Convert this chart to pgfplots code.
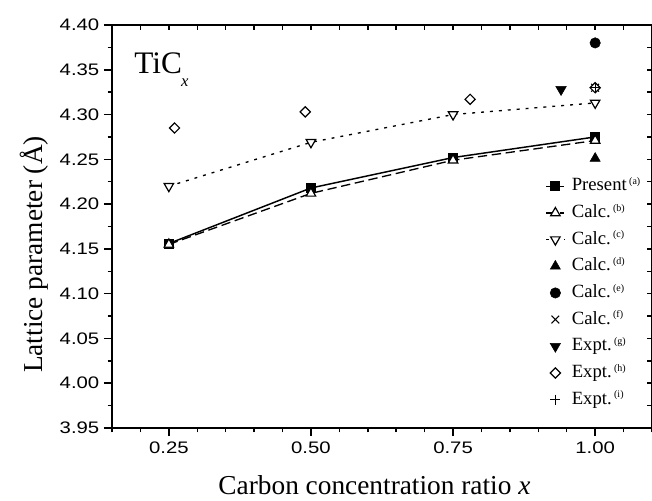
\documentclass[border=0pt]{standalone}
\usepackage{fontspec}
\setmainfont{Liberation Serif}
\newfontfamily\arial[FakeStretch=1.22]{Liberation Sans}
\usepackage{pgfplots}
\pgfplotsset{compat=1.18}
\newcommand{\lf}{\fontsize{14}{14}\selectfont}
\newcommand{\refsup}[1]{\kern1.8pt\raisebox{4.8pt}{\fontsize{7.5}{7.5}\selectfont(#1)}}
\begin{document}
\begin{tikzpicture}
\pgfplotsset{
  common/.style={
    scale only axis, width=405pt, height=302.25pt,
    xmin=0.15, xmax=1.10, ymin=3.95, ymax=4.40,
    xtick={0.25,0.5,0.75,1.0},
    minor xtick={0.15,0.2,0.3,0.35,0.4,0.45,0.55,0.6,0.65,0.7,0.8,0.85,0.9,0.95,1.05,1.1},
    ytick={3.95,4.00,4.05,4.10,4.15,4.20,4.25,4.30,4.35,4.40},
    minor ytick={3.975,4.025,4.075,4.125,4.175,4.225,4.275,4.325,4.375},
    axis line style={line width=1.1pt, black},
    tick style={line width=1.1pt, black},
  }
}
\begin{axis}[common,
  axis x line*=bottom, axis y line*=left, tick align=outside,
  major tick length=6pt, minor tick length=3.2pt,
  /pgf/number format/.cd, fixed, fixed zerofill, precision=2, assume math mode=true, /pgfplots/.cd,
  ticklabel style={font=\arial\fontsize{12.5}{12.5}\selectfont},
  xticklabel style={yshift=-1pt},
  xlabel={Carbon concentration ratio \textit{x}},
  ylabel={Lattice parameter (Å)},
  label style={font=\fontsize{20.5}{20.5}\selectfont},
  xlabel style={at={(axis description cs:0.486,-0.1638)}, anchor=base},
  ylabel style={at={(axis description cs:-0.1278,0.4305)}, anchor=base},
  legend image code/.code={\draw[mark repeat=2,mark phase=2] plot coordinates {(0pt,0pt) (6.8pt,0pt) (13.6pt,0pt)};},
  legend style={at={(0.795,0.6253)}, anchor=north west, draw=none, fill=none,
    nodes={inner ysep=0pt, inner xsep=1pt, text height=9pt, text depth=2pt},
    row sep=9pt, column sep=4pt},
  legend cell align=left,
]
\addplot[black, line width=1.1pt, mark=square*, mark size=3.2pt, mark options={solid}]
  coordinates {(0.25,4.156) (0.50,4.218) (0.75,4.252) (1.00,4.275)};
\addlegendentry{\lf Present\refsup{a}}
\addplot[black, line width=1pt, dash pattern=on 7pt off 3.5pt, mark=triangle*, mark size=4.1pt, mark options={solid, fill=white, line width=0.9pt}]
  coordinates {(0.25,4.155) (0.50,4.212) (0.75,4.249) (1.00,4.271)};
\addlegendentry{\lf Calc.\refsup{b}}
\addplot[black, line width=1pt, dash pattern=on 2.2pt off 4.5pt, mark=triangle*, mark size=4.1pt, mark options={solid, fill=white, line width=0.9pt, rotate=180}]
  coordinates {(0.25,4.220) (0.50,4.269) (0.75,4.300) (1.00,4.313)};
\addlegendentry{\lf Calc.\refsup{c}}
\addplot[black, only marks, mark=triangle*, mark size=4.4pt]
  coordinates {(1.00,4.251)};
\addlegendentry{\lf Calc.\refsup{d}}
\addplot[black, only marks, mark=*, mark size=3.9pt]
  coordinates {(1.00,4.380)};
\addlegendentry{\lf Calc.\refsup{e}}
\addplot[black, only marks, mark=x, mark size=4.1pt, mark options={line width=0.8pt}]
  coordinates {(1.00,4.330)};
\addlegendentry{\lf Calc.\refsup{f}}
\addplot[black, only marks, mark=triangle*, mark size=4.5pt, mark options={rotate=180}]
  coordinates {(0.94,4.328)};
\addlegendentry{\lf Expt.\refsup{g}}
\addplot[black, only marks, mark=square*, mark size=2.7pt, mark options={fill=white, line width=0.9pt, rotate=45}]
  coordinates {(0.26,4.285) (0.49,4.303) (0.78,4.317) (1.00,4.330)};
\addlegendentry{\lf Expt.\refsup{h}}
\addplot[black, only marks, mark=+, mark size=3.8pt, mark options={line width=0.8pt}]
  coordinates {(1.00,4.330)};
\addlegendentry{\lf Expt.\refsup{i}}
\node[anchor=base west, font=\fontsize{23.5}{23.5}\selectfont, inner sep=0pt] at (axis cs:0.1887,4.346) {TiC\kern-0.5pt\raisebox{-10pt}{\fontsize{12.5}{12.5}\selectfont\textit{x}}};
\end{axis}
\begin{axis}[common,
  axis x line*=top, axis y line*=right, tick align=inside,
  major tick length=4pt, minor tick length=4pt,
  xticklabels={}, yticklabels={},
]
\end{axis}
\pgfresetboundingbox
\path (-84pt,-54pt) rectangle (405pt,321pt);
\end{tikzpicture}
\end{document}
